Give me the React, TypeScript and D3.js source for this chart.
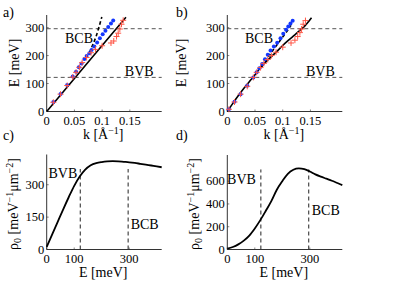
import React from "react";
import * as d3 from "d3";

// ---------- data ----------
const kTicks = [0, 0.05, 0.1, 0.15];
const kTickLabels = ["0", "0.05", "0.1", "0.15"];
const eTicksAB = [0, 100, 200, 300];
const eTicksCD = [0, 100, 300];
const rhoTicksC = [0, 150, 300];
const rhoTicksD = [0, 200, 400, 600];
const BVB = 122;
const BCB = 296;

// panel a
const aRedK = [0.012, 0.025, 0.037, 0.047, 0.053, 0.059, 0.064, 0.072, 0.080, 0.088, 0.100, 0.116, 0.121, 0.126, 0.129, 0.132, 0.135, 0.138];
const aRedE = [33, 62, 93, 123, 140, 158, 175, 193, 210, 222, 235, 245, 252, 268, 280, 295, 312, 326];
const aBlueK = [0.012, 0.025, 0.037, 0.047, 0.053, 0.058, 0.063, 0.068, 0.072, 0.077, 0.081, 0.086, 0.091, 0.096, 0.101, 0.106, 0.111, 0.116, 0.120];
const aBlueE = [34, 63, 95, 125, 142, 158, 172, 188, 198, 208, 220, 232, 247, 262, 276, 289, 302, 315, 325];
const aLineK = [0, 0.05, 0.1, 0.143];
const aLineE = [0, 118, 236, 337];
const aDashK = [0.077, 0.083, 0.089, 0.094, 0.0995];
const aDashE = [210, 238, 268, 300, 338];

// panel b
const bRedK = [0.003, 0.013, 0.024, 0.036, 0.047, 0.053, 0.060, 0.066, 0.073, 0.080, 0.088, 0.100, 0.115, 0.122, 0.127, 0.131, 0.134, 0.137, 0.141];
const bRedE = [8, 34, 62, 90, 122, 140, 157, 172, 186, 200, 212, 230, 245, 255, 268, 282, 295, 312, 325];
const bBlueK = [0.003, 0.013, 0.024, 0.036, 0.047, 0.053, 0.058, 0.063, 0.068, 0.073, 0.078, 0.084, 0.090, 0.096, 0.101, 0.106, 0.110, 0.114, 0.118];
const bBlueE = [8, 35, 62, 92, 122, 140, 155, 170, 187, 203, 218, 232, 246, 262, 278, 292, 304, 315, 324];
const bLineK = [0, 0.01, 0.02, 0.03, 0.04, 0.05, 0.06, 0.07, 0.08, 0.09, 0.10, 0.11, 0.12, 0.13, 0.14, 0.152];
const bLineE = [0, 29, 57, 83, 107, 131, 158, 178, 197, 216, 236, 254, 271, 288, 306, 335];
const bDashK = [0.062, 0.070, 0.078, 0.088, 0.098, 0.108, 0.115];
const bDashE = [160, 182, 207, 234, 261, 288, 308];

// panel c
const cE = [0, 20, 40, 60, 80, 100, 120, 140, 160, 180, 200, 220, 240, 260, 280, 300, 320, 340, 360, 380, 400, 418];
const cRho = [12, 70, 128, 186, 242, 295, 338, 370, 390, 400, 405, 408, 409, 408, 406, 404, 401, 397, 393, 389, 385, 381];

// panel d
const dE = [0, 20, 40, 60, 80, 100, 120, 140, 160, 180, 200, 220, 240, 260, 280, 300, 320, 340, 360, 380, 400, 418];
const dRho = [8, 22, 45, 78, 122, 185, 258, 340, 425, 525, 600, 665, 700, 712, 705, 685, 660, 640, 622, 604, 584, 566];

// ---------- layout ----------
const FONT = "Liberation Serif, Times New Roman, DejaVu Serif, serif";
const COL2 = 180.6;
const AX_COLOR = "#333";
const T = { fontFamily: FONT } as const;

type Sc = d3.ScaleLinear<number, number>;

function Axes({ x, y, xt, xl, yt, yl }: { x: Sc; y: Sc; xt: number[]; xl: string[]; yt: number[]; yl: string[] }) {
  const [x0, x1] = x.range();
  const [y0, y1] = y.range();
  return (
    <g>
      <line x1={x0} x2={x1} y1={y0} y2={y0} stroke={AX_COLOR} strokeWidth={1} />
      <line x1={x0} x2={x0} y1={y0} y2={y1} stroke={AX_COLOR} strokeWidth={1} />
      {xt.map((t, i) => (
        <g key={"x" + i}>
          <line x1={x(t)} x2={x(t)} y1={y0} y2={y0 - 2} stroke={AX_COLOR} strokeWidth={0.6} />
          <text x={x(t)} y={y0 + 13.5} textAnchor="middle" fontSize={12.5} style={T}>{xl[i]}</text>
        </g>
      ))}
      {yt.map((t, i) => (
        <g key={"y" + i}>
          <line x1={x0} x2={x0 + 2} y1={y(t)} y2={y(t)} stroke={AX_COLOR} strokeWidth={0.6} />
          <text x={x0 - 2.5} y={y(t) + 4} textAnchor="end" fontSize={12.5} style={T}>{yl[i]}</text>
        </g>
      ))}
    </g>
  );
}

function Dispersion({ x, y, redK, redE, blueK, blueE, lineK, lineE, dashK, dashE, bcbX, bvbX, label, labelX, ylabelX }: any) {
  const ln = d3.line<number>().x((_, i) => x(lineK[i])).y((d) => y(d)).curve(d3.curveMonotoneX);
  const dl = d3.line<number>().x((_, i) => x(dashK[i])).y((d) => y(d)).curve(d3.curveMonotoneX);
  const [x0, x1] = x.range();
  const mid = (x0 + x1) / 2;
  return (
    <g>
      <line x1={x0} x2={x1} y1={y(BCB)} y2={y(BCB)} stroke="#555" strokeDasharray="4 3" strokeWidth={1} />
      <line x1={x0} x2={x1} y1={y(BVB)} y2={y(BVB)} stroke="#555" strokeDasharray="4 3" strokeWidth={1} />
      <Axes x={x} y={y} xt={kTicks} xl={kTickLabels} yt={eTicksAB} yl={eTicksAB.map(String)} />
      <path d={ln(lineE) || ""} fill="none" stroke="#000" strokeWidth={1.6} />
      <path d={dl(dashE) || ""} fill="none" stroke="#000" strokeWidth={1.6} strokeDasharray="3.5 2.5" />
      {blueK.map((k: number, i: number) => (
        <circle key={"b" + i} cx={x(k)} cy={y(blueE[i])} r={2} fill="#1236ff" />
      ))}
      {redK.map((k: number, i: number) => (
        <path key={"r" + i} d={`M${x(k) - 3},${y(redE[i])}h6M${x(k)},${y(redE[i]) - 3}v6`} stroke="#ff5444" strokeWidth={1} />
      ))}
      <text x={x(bcbX)} y={y(BCB) + 14.3} fontSize={14} style={T}>BCB</text>
      <text x={x(bvbX)} y={y(BVB) - 1.5} fontSize={14} style={T}>BVB</text>
      <text x={mid - 1} y={y.range()[0] + 27} textAnchor="middle" fontSize={14} style={T}>
        <tspan>k [Å</tspan>
        <tspan dy={-5} fontSize={10}>−1</tspan>
        <tspan dy={5}>]</tspan>
      </text>
      <text transform={`translate(${ylabelX},${63}) rotate(-90)`} textAnchor="middle" fontSize={14} style={T}>E [meV]</text>
      <text x={labelX} y={16.7} fontSize={14} style={T}>{label}</text>
    </g>
  );
}

function DOS({ x, y, es, rhos, yt, label, labelX, ylabelX, bvbDx, bvbY, bcbDx, bcbY }: any) {
  const ln = d3.line<number>().x((_, i) => x(es[i])).y((d) => y(d)).curve(d3.curveMonotoneX);
  const [x0, x1] = x.range();
  const [y0, y1] = y.range();
  const top = y0 - 0.847 * (y0 - y1);
  const mid = (x0 + x1) / 2;
  return (
    <g>
      <line x1={x(BVB)} x2={x(BVB)} y1={y0} y2={top} stroke="#222" strokeDasharray="4 3" strokeWidth={1} />
      <line x1={x(BCB)} x2={x(BCB)} y1={y0} y2={top} stroke="#222" strokeDasharray="4 3" strokeWidth={1} />
      <Axes x={x} y={y} xt={eTicksCD} xl={eTicksCD.map(String)} yt={yt} yl={yt.map(String)} />
      <path d={ln(rhos) || ""} fill="none" stroke="#000" strokeWidth={1.8} />
      <text x={x(BVB) + bvbDx} y={bvbY} textAnchor="end" fontSize={14} style={T}>BVB</text>
      <text x={x(BCB) + bcbDx} y={bcbY} fontSize={14} style={T}>BCB</text>
      <text x={mid - 1} y={y0 + 27} textAnchor="middle" fontSize={14} style={T}>E [meV]</text>
      <text transform={`translate(${ylabelX},${204}) rotate(-90)`} textAnchor="middle" fontSize={14} style={T}>
        <tspan>ρ</tspan>
        <tspan dy={3} fontSize={10}>0</tspan>
        <tspan dy={-3}> [meV</tspan>
        <tspan dy={-5} fontSize={10}>−1</tspan>
        <tspan dy={5}>μm</tspan>
        <tspan dy={-5} fontSize={10}>−2</tspan>
        <tspan dy={5}>]</tspan>
      </text>
      <text x={labelX} y={139.5} fontSize={14} style={T}>{label}</text>
    </g>
  );
}

export default function App() {
  const xa = d3.scaleLinear().domain([0, 0.2075]).range([46.7, 161.7]);
  const xb = d3.scaleLinear().domain([0, 0.2075]).range([46.7 + COL2, 161.7 + COL2]);
  const yab = d3.scaleLinear().domain([0, 345]).range([111.5, 15]);
  const xc = d3.scaleLinear().domain([0, 418]).range([46.7, 161.7]);
  const xd = d3.scaleLinear().domain([0, 418]).range([46.7 + COL2, 161.7 + COL2]);
  const yc = d3.scaleLinear().domain([0, 440]).range([249.5, 154.5]);
  const yd = d3.scaleLinear().domain([0, 830]).range([249.5, 155]);
  return (
    <svg width={399} height={282} style={{ position: "absolute", left: 0, top: 0, background: "#fff", fontFamily: FONT }}>
      <rect width={399} height={282} fill="#fff" />
      <Dispersion x={xa} y={yab} redK={aRedK} redE={aRedE} blueK={aBlueK} blueE={aBlueE} lineK={aLineK} lineE={aLineE}
        dashK={aDashK} dashE={aDashE} bcbX={0.033} bvbX={0.141} label="a)" labelX={3} ylabelX={19} />
      <Dispersion x={xb} y={yab} redK={bRedK} redE={bRedE} blueK={bBlueK} blueE={bBlueE} lineK={bLineK} lineE={bLineE}
        dashK={bDashK} dashE={bDashE} bcbX={0.032} bvbX={0.142} label="b)" labelX={176} ylabelX={186} />
      <DOS x={xc} y={yc} es={cE} rhos={cRho} yt={rhoTicksC} label="c)" labelX={3} ylabelX={18}
        bvbDx={-3} bvbY={178} bcbDx={2.5} bcbY={229} />
      <DOS x={xd} y={yd} es={dE} rhos={dRho} yt={rhoTicksD} label="d)" labelX={176} ylabelX={199}
        bvbDx={-5} bvbY={184} bcbDx={3} bcbY={215} />
    </svg>
  );
}
